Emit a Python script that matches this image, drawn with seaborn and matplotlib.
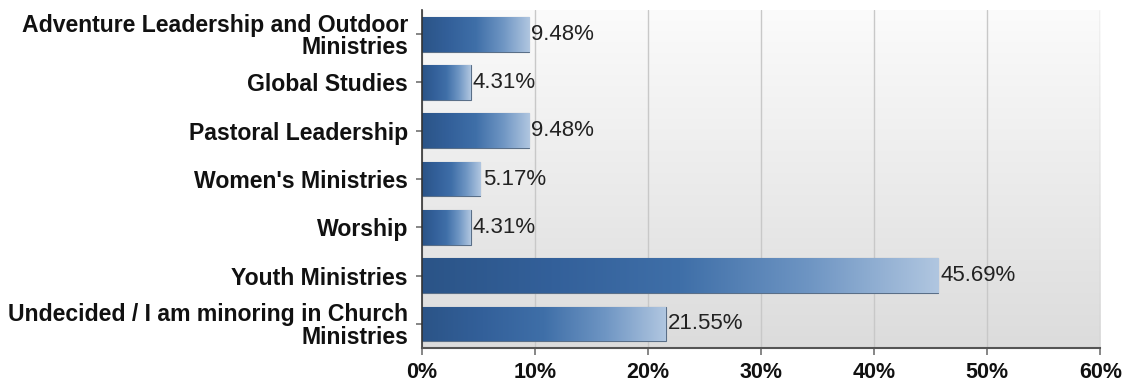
import numpy as np
import pandas as pd
import matplotlib
matplotlib.use("Agg")
import matplotlib.pyplot as plt
from matplotlib.colors import LinearSegmentedColormap
import seaborn as sns

categories = [
    "Adventure Leadership and Outdoor\nMinistries",
    "Global Studies",
    "Pastoral Leadership",
    "Women's Ministries",
    "Worship",
    "Youth Ministries",
    "Undecided / I am minoring in Church\nMinistries",
]
percentages = [9.48, 4.31, 9.48, 5.17, 4.31, 45.69, 21.55]
xticks = [0, 10, 20, 30, 40, 50, 60]

df = pd.DataFrame({"major": categories, "pct": percentages})

sns.set_theme(style="white")
plt.rcParams["font.family"] = ["Liberation Sans", "DejaVu Sans"]

fig = plt.figure(figsize=(11.25, 3.83), dpi=100)
ax = fig.add_axes([0.375, 0.091, 0.603, 0.883])

sns.barplot(data=df, y="major", x="pct", orient="h", ax=ax,
            color="#3a6698", width=0.72, saturation=1)

ax.set_xlim(0, 60)
ax.set_xticks(xticks)
ax.set_xticklabels([f"{t}%" for t in xticks], fontsize=15.5, fontweight="bold",
                   color="#111111")
ax.set_yticklabels(categories, fontsize=16.6, fontweight="bold", color="#111111",
                   linespacing=0.98)
ax.set_xlabel("")
ax.set_ylabel("")

# vertical gradient background of the plotting area
bg = np.linspace(0, 1, 256).reshape(-1, 1)
bg_cmap = LinearSegmentedColormap.from_list("bg", ["#fbfbfb", "#dcdcdc"])
ylo, yhi = ax.get_ylim()
ax.imshow(bg, cmap=bg_cmap, aspect="auto", extent=[0, 60, ylo, yhi],
          origin="upper", zorder=0)
ax.set_ylim(ylo, yhi)

ax.grid(axis="x", color="#c8c8c8", linewidth=1.0, zorder=0.5)
ax.set_axisbelow(True)

# horizontal gradient fill for each bar, clipped to the bar's rectangle
bar_cmap = LinearSegmentedColormap.from_list(
    "bar", ["#2b5487", "#33609a", "#3f6fa8", "#6e95c3", "#b0c6e0"])
grad = np.linspace(0, 1, 256).reshape(1, -1)
for patch, val in zip(ax.patches, percentages):
    x0, y0 = patch.get_x(), patch.get_y()
    w, h = patch.get_width(), patch.get_height()
    patch.set_edgecolor("#5a6f88")
    patch.set_linewidth(0.8)
    im = ax.imshow(grad, cmap=bar_cmap, aspect="auto",
                   extent=[x0, x0 + w, y0 + h, y0], zorder=2)
    im.set_clip_path(patch)
    ax.text(x0 + w + 0.2, y0 + h / 2, f"{val:.2f}%", va="center", ha="left",
            fontsize=16, color="#222222", zorder=3)
ax.set_ylim(ylo, yhi)
ax.set_xlim(0, 60)

for side in ["top", "right"]:
    ax.spines[side].set_visible(False)
ax.spines["left"].set_color("#333333")
ax.spines["left"].set_linewidth(1.2)
ax.spines["bottom"].set_color("#555555")
ax.spines["bottom"].set_linewidth(1.5)
ax.tick_params(axis="y", left=True, length=4, color="#777777", pad=6)
ax.tick_params(axis="x", bottom=True, length=5, color="#777777", pad=5)

fig.savefig("out.png", dpi=100, facecolor="white")
